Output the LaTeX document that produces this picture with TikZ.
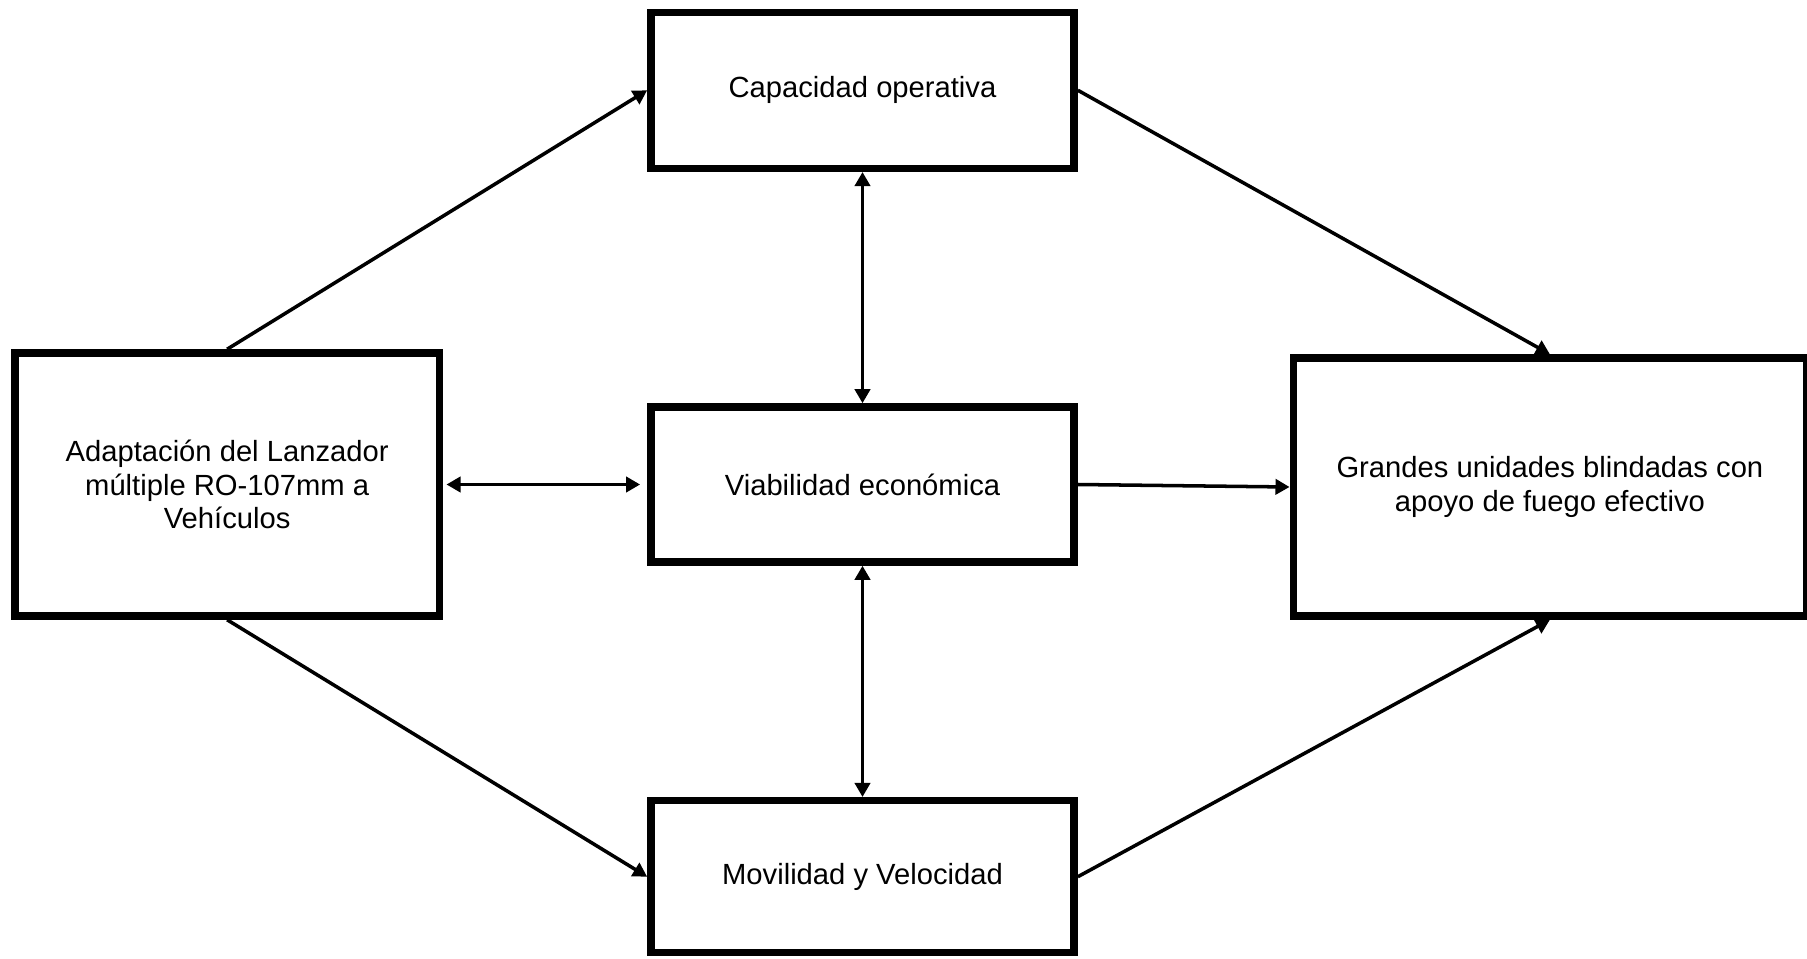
\documentclass[tikz,border=0pt]{standalone}
\usepackage{fontspec}
\setmainfont{Liberation Sans}
\usepackage{tikz}
\usetikzlibrary{positioning, calc, arrows.meta}

\begin{document}
\begin{tikzpicture}[x=0.01cm,y=-0.01cm,node distance=3.94cm,>={Triangle[length=4pt,width=4.3pt]},
  caja/.style={draw,line width=2.1pt,align=center,inner sep=0pt,font=\fontsize{8.3}{9.5}\selectfont},
  flecha/.style={line width=1pt}]
\useasboundingbox (0,0) rectangle (1807,958);
\draw node [caja,minimum width=4.23cm,minimum height=1.55cm] at (862.5,484.5) (via) {Viabilidad económica};
\draw node [caja,minimum width=4.23cm,minimum height=1.56cm] [above of=via] (cap) {Capacidad operativa};
\draw node [caja,minimum width=4.23cm,minimum height=1.52cm] [below of=via,node distance=3.92cm] (mov) {Movilidad y Velocidad};
\draw node [caja,minimum width=4.24cm,minimum height=2.63cm] [left of=via,node distance=6.35cm] (lanz) {Adaptación del Lanzador\\múltiple RO-107mm a\\Vehículos};
\draw node [caja,minimum width=5.13cm,minimum height=2.58cm] [right of=via,node distance=6.87cm,yshift=-0.25mm] (unid) {Grandes unidades blindadas con\\apoyo de fuego efectivo};
\draw [->,flecha] (lanz.north) -- (cap.west);
\draw [->,flecha] (lanz.south) -- (mov.west);
\draw [->,flecha] (cap.east) -- (unid.north);
\draw [->,flecha] (mov.east) -- (unid.south);
\draw [<->,flecha] (cap.south) -- (via.north);
\draw [<->,flecha] (via.south) -- (mov.north);
\draw [<->,flecha,shorten <=1pt,shorten >=2pt] (lanz.east) -- (via.west);
\draw [->,flecha] (via.east) -- (unid.west);
\end{tikzpicture}
\end{document}
